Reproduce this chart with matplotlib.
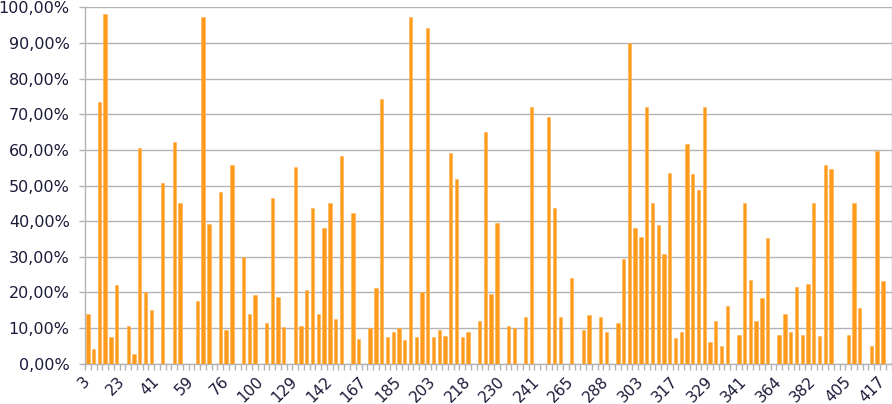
import numpy as np
import matplotlib
matplotlib.use("Agg")
import matplotlib.pyplot as plt
from matplotlib.ticker import FuncFormatter, FixedLocator, MultipleLocator

# ---- data (percent values per category; None = no bar) ----
values = [
    14.0, 4.0, 73.4, 98.2, 7.5, 22.1, None, 10.6, 2.7, 60.6,
    20.0, 15.1, None, 50.8, None, 62.2, 45.2, None, None, 17.6,
    97.3, 39.1, None, 48.2, 9.5, 55.8, None, 29.9, 14.0, 19.2,
    None, 11.5, 46.5, 18.6, 10.3, None, 55.2, 10.6, 20.6, 43.8,
    14.0, 38.1, 45.2, 12.5, 58.2, None, 42.2, 7.0, None, 10.0,
    21.1, 74.2, 7.5, 9.0, 10.0, 6.6, 97.3, 7.5, 20.0, 94.2,
    7.5, 9.5, 7.8, 59.1, 51.8, 7.5, 9.0, None, 12.1, 65.1,
    19.6, 39.6, None, 10.6, 10.0, None, 13.1, 72.1, None, None,
    69.1, 43.7, 13.1, None, 24.1, None, 9.5, 13.6, None, 13.1,
    9.0, None, 11.5, 29.3, 90.0, 38.1, 35.6, 72.1, 45.2, 38.8,
    30.9, 53.4, 7.3, 9.0, 61.6, 53.1, 48.6, 72.1, 6.0, 12.1,
    5.0, 16.1, None, 8.1, 45.2, 23.6, 12.1, 18.5, 35.2, None,
    8.1, 14.0, 9.0, 21.5, 8.1, 22.4, 45.2, 7.7, 55.7, 54.6,
    None, None, 8.1, 45.2, 15.5, None, 5.0, 59.6, 23.2, None,
]
tick_labels = ["3", "23", "41", "59", "76", "100", "129", "142", "167", "185",
               "203", "218", "230", "241", "265", "288", "303", "317", "329",
               "341", "364", "382", "405", "417"]
label_every = 6

vals = np.array([np.nan if v is None else v for v in values], dtype=float)
x = np.arange(len(vals))

fig = plt.figure(figsize=(8.92, 4.04), dpi=100)
ax = fig.add_axes([85 / 892, 1 - 363.7 / 404, (891.5 - 85) / 892, (363.7 - 7.3) / 404])

grid_c = "#b3b3b3"
text_c = "#1b1b3a"

ax.bar(x, vals, width=0.58, color="#ff9a1a", edgecolor="#ffb04d", linewidth=0.4, zorder=3)

ax.set_xlim(-0.5, len(vals) - 0.5)
ax.set_ylim(0, 100)

ax.yaxis.set_major_locator(MultipleLocator(10))
ax.yaxis.set_major_formatter(FuncFormatter(lambda v, p: ("%.2f%%" % v).replace(".", ",")))
ax.grid(axis="y", color=grid_c, linewidth=1.0, zorder=0)
ax.set_axisbelow(True)

pos = np.arange(0, len(vals), label_every)[:len(tick_labels)]
ax.xaxis.set_major_locator(FixedLocator(pos))
ax.set_xticklabels(tick_labels)
ax.xaxis.set_minor_locator(FixedLocator(np.arange(-0.5, len(vals), 1.0)))
ax.tick_params(axis="x", which="major", length=0, pad=11.3, labelsize=11.1, labelcolor=text_c)
ax.tick_params(axis="x", which="minor", length=4, width=1, color=grid_c)
ax.tick_params(axis="y", which="major", length=4, width=1, color=grid_c, labelsize=11.5,
               labelcolor=text_c, pad=7)
for lab in ax.get_xticklabels():
    lab.set_rotation(45)
    lab.set_ha("right")
    lab.set_va("center")
    lab.set_rotation_mode("anchor")

for side in ["left", "bottom", "right"]:
    ax.spines[side].set_color(grid_c)
    ax.spines[side].set_linewidth(1.0)
ax.spines["top"].set_visible(False)

fig.savefig("out.png", dpi=100)
